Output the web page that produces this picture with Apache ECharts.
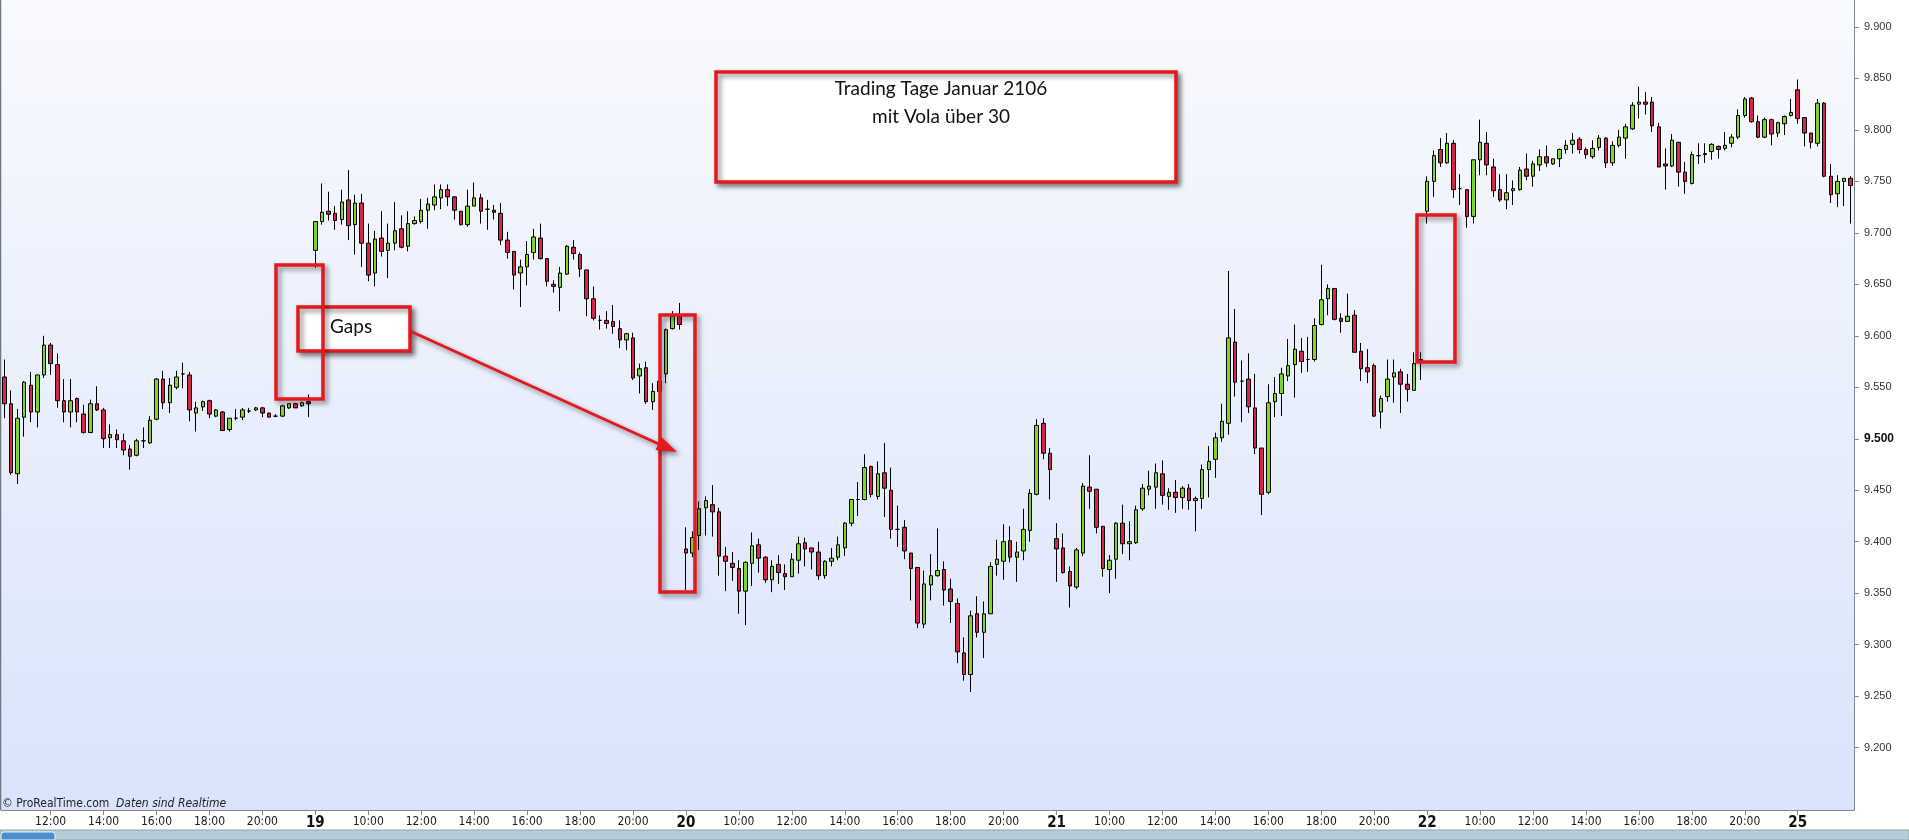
<!DOCTYPE html>
<html>
<head>
<meta charset="utf-8">
<script src="https://cdn.jsdelivr.net/npm/echarts@6/dist/echarts.min.js"></script>
<style>
html,body{margin:0;padding:0;background:#ffffff;}
#chart{width:1909px;height:840px;}
</style>
</head>
<body>
<div id="chart"></div>
<script>
// ---- trading days / sessions (15-minute candles) ----
const dayNames = ['18', '19', '20', '21', '22', '25'];
const dayCandleCount = [47, 56, 56, 56, 56, 9];
const dayFirstTime = ['10:15', '08:00', '08:00', '08:00', '08:00', '08:00'];
const barMinutes = 15;
const xLabelTimes = ['10:00', '12:00', '14:00', '16:00', '18:00', '20:00'];

// ---- price ticks on the right axis (DAX points) ----
const yTickValues = [9200, 9250, 9300, 9350, 9400, 9450, 9500, 9550, 9600, 9650, 9700, 9750, 9800, 9850, 9900];
const yBoldTick = 9500;

// ---- OHLC values ----
const openP = [
9560,9534,9466,9521,9552,9526,9562,9591,9572,9537,
9526,9539,9524,9506,9534,9528,9501,9504,9498,9490,
9484,9498,9496,9519,9558,9535,9550,9563,9562,9525,
9531,9537,9522,9526,9509,9520,9521,9527,9528,9530,
9525,9522,9522,9530,9534,9532,9536,9683,9711,9721,
9719,9713,9732,9708,9729,9690,9661,9695,9683,9690,
9704,9687,9709,9711,9722,9727,9734,9742,9735,9721,
9708,9726,9734,9723,9722,9719,9693,9682,9661,9667,
9681,9695,9675,9650,9647,9660,9686,9679,9664,9636,
9615,9615,9614,9607,9596,9598,9561,9569,9536,9546,
9563,9607,9619,9393,9389,9406,9433,9436,9429,9386,
9379,9374,9352,9379,9397,9385,9363,9378,9369,9366,
9382,9399,9394,9390,9367,9381,9385,9394,9418,9441,
9441,9473,9444,9467,9450,9412,9414,9389,9375,9320,
9358,9367,9373,9354,9340,9292,9271,9330,9312,9330,
9378,9381,9401,9385,9391,9411,9446,9515,9486,9403,
9394,9371,9356,9389,9453,9451,9415,9373,9383,9418,
9398,9399,9432,9451,9453,9466,9444,9448,9443,9452,
9440,9442,9470,9480,9501,9515,9594,9556,9558,9530,
9491,9448,9536,9544,9561,9572,9585,9577,9577,9611,
9636,9646,9617,9614,9620,9585,9569,9571,9526,9541,
9560,9565,9553,9547,9577,9721,9750,9781,9768,9787,
9743,9742,9716,9771,9787,9764,9742,9732,9741,9742,
9762,9755,9766,9774,9767,9772,9781,9786,9791,9781,
9774,9783,9792,9768,9785,9792,9801,9825,9827,9827,
9803,9767,9765,9788,9759,9748,9775,9776,9779,9784,
9782,9787,9793,9814,9831,9808,9793,9810,9797,9806,
9814,9839,9812,9797,9787,9826,9755,9738,9750,9753
];
const closeP = [
9534,9467,9520,9555,9526,9562,9591,9573,9537,9526,
9537,9526,9506,9534,9528,9500,9504,9499,9489,9483,
9498,9498,9518,9558,9535,9552,9560,9563,9528,9530,
9536,9524,9528,9508,9520,9520,9528,9527,9530,9525,
9521,9522,9532,9534,9530,9535,9534,9711,9720,9718,
9712,9730,9707,9729,9690,9659,9694,9682,9690,9702,
9686,9709,9712,9722,9728,9735,9742,9735,9722,9708,
9726,9734,9721,9723,9720,9693,9681,9659,9667,9679,
9696,9675,9653,9648,9661,9687,9680,9665,9636,9617,
9615,9612,9609,9596,9602,9559,9568,9536,9546,9556,
9606,9619,9611,9389,9404,9432,9440,9429,9386,9381,
9375,9352,9380,9396,9384,9363,9376,9370,9366,9383,
9398,9393,9390,9367,9381,9384,9397,9418,9441,9441,
9472,9446,9466,9452,9412,9412,9391,9374,9321,9359,
9367,9372,9353,9342,9293,9271,9328,9312,9330,9376,
9383,9400,9385,9390,9412,9447,9513,9486,9470,9393,
9370,9357,9392,9454,9449,9414,9374,9382,9418,9398,
9400,9431,9452,9454,9467,9445,9448,9443,9452,9440,
9442,9470,9478,9501,9517,9598,9555,9556,9531,9491,
9446,9535,9544,9563,9571,9587,9575,9577,9610,9635,
9646,9616,9614,9619,9584,9568,9565,9522,9539,9558,
9564,9553,9548,9573,9575,9750,9775,9768,9787,9742,
9743,9716,9771,9788,9766,9741,9732,9739,9743,9761,
9755,9767,9774,9768,9772,9781,9785,9790,9781,9776,
9782,9792,9768,9785,9793,9803,9824,9827,9825,9804,
9764,9765,9790,9759,9750,9776,9775,9777,9786,9781,
9785,9793,9814,9830,9808,9793,9810,9796,9807,9813,
9817,9811,9797,9788,9826,9755,9737,9750,9753,9746
];
const lowP = [
9520,9465,9456,9502,9516,9511,9559,9562,9530,9516,
9511,9516,9505,9506,9527,9491,9491,9491,9484,9470,
9483,9491,9495,9518,9529,9525,9548,9549,9517,9507,
9527,9520,9521,9508,9507,9518,9518,9525,9527,9521,
9521,9521,9521,9529,9530,9531,9521,9666,9708,9712,
9703,9708,9693,9679,9667,9653,9648,9677,9656,9683,
9685,9682,9708,9709,9704,9722,9723,9726,9713,9707,
9706,9726,9709,9703,9713,9688,9675,9645,9628,9649,
9674,9674,9648,9642,9624,9659,9674,9657,9619,9615,
9606,9607,9602,9588,9586,9557,9544,9534,9528,9542,
9554,9606,9606,9353,9385,9392,9406,9405,9367,9352,
9362,9330,9319,9357,9370,9360,9351,9359,9353,9366,
9369,9376,9373,9363,9364,9376,9382,9386,9415,9425,
9440,9443,9441,9424,9403,9395,9383,9343,9316,9316,
9343,9366,9338,9321,9282,9265,9254,9307,9287,9330,
9367,9363,9380,9361,9382,9400,9445,9480,9441,9361,
9369,9336,9354,9386,9432,9408,9366,9350,9364,9388,
9382,9398,9430,9445,9432,9436,9431,9428,9432,9431,
9410,9432,9443,9462,9497,9504,9541,9516,9525,9485,
9426,9446,9521,9522,9556,9540,9564,9565,9575,9610,
9620,9615,9603,9614,9584,9556,9554,9521,9510,9536,
9535,9525,9536,9547,9557,9709,9735,9764,9767,9734,
9727,9705,9709,9756,9756,9735,9730,9723,9727,9741,
9751,9745,9760,9764,9766,9764,9777,9777,9777,9772,
9772,9780,9763,9765,9783,9772,9800,9811,9815,9798,
9764,9742,9764,9745,9738,9747,9767,9768,9771,9772,
9780,9783,9791,9812,9807,9792,9792,9785,9793,9795,
9813,9806,9784,9782,9784,9754,9729,9725,9726,9709
];
const highP = [
9577,9547,9529,9556,9565,9562,9600,9593,9583,9558,
9558,9540,9533,9538,9551,9530,9514,9509,9505,9494,
9500,9511,9522,9559,9566,9559,9566,9574,9565,9536,
9537,9538,9529,9527,9520,9529,9530,9530,9531,9531,
9525,9524,9533,9534,9535,9536,9543,9711,9748,9740,
9726,9742,9761,9737,9738,9709,9702,9721,9709,9730,
9717,9721,9716,9733,9734,9747,9747,9747,9735,9721,
9742,9749,9738,9732,9727,9729,9701,9682,9674,9692,
9704,9709,9675,9654,9667,9688,9693,9681,9664,9648,
9620,9624,9630,9615,9603,9603,9573,9575,9554,9562,
9607,9624,9632,9414,9410,9439,9444,9455,9433,9395,
9390,9382,9381,9409,9403,9386,9382,9387,9378,9389,
9405,9404,9394,9400,9382,9394,9405,9419,9441,9458,
9485,9474,9478,9496,9472,9435,9421,9389,9375,9372,
9388,9413,9381,9364,9345,9307,9333,9347,9342,9380,
9402,9417,9415,9400,9432,9451,9519,9520,9491,9418,
9408,9376,9394,9457,9484,9451,9415,9387,9419,9436,
9420,9435,9456,9469,9476,9479,9452,9460,9454,9456,
9444,9475,9493,9506,9534,9663,9626,9576,9583,9563,
9491,9553,9560,9569,9597,9611,9598,9599,9617,9669,
9650,9646,9622,9641,9625,9593,9587,9573,9542,9577,
9577,9568,9563,9584,9584,9755,9780,9792,9797,9790,
9757,9742,9771,9810,9798,9772,9757,9757,9751,9764,
9777,9770,9781,9785,9772,9782,9790,9797,9793,9783,
9790,9795,9793,9789,9800,9806,9827,9842,9837,9832,
9807,9782,9796,9788,9769,9779,9787,9787,9787,9785,
9798,9796,9820,9832,9832,9814,9812,9811,9808,9814,
9830,9849,9812,9797,9830,9827,9767,9756,9753,9755
];

// ---- build categories (time of each candle) ----
const categories = [];
const labelText = {};
dayNames.forEach((d, di) => {
  const [h0, m0] = dayFirstTime[di].split(':').map(Number);
  for (let k = 0; k < dayCandleCount[di]; k++) {
    const t = h0 * 60 + m0 + k * barMinutes;
    const hh = String(Math.floor(t / 60)).padStart(2, '0');
    const mm = String(t % 60).padStart(2, '0');
    const idx = categories.length;
    categories.push(d + '.01. ' + hh + ':' + mm);
    if (k === 0 && di > 0) labelText[idx] = '{d|' + d + '}';
    else if (xLabelTimes.indexOf(hh + ':' + mm) >= 0 && di < dayNames.length - 1) labelText[idx] = hh + ':' + mm;
  }
});
const candleData = openP.map((o, i) => [o, closeP[i], lowP[i], highP[i]]);

const chart = echarts.init(document.getElementById('chart'), null, {renderer: 'canvas'});
const RED = '#e3191e';
const SH = {shadowBlur: 5, shadowOffsetX: 3, shadowOffsetY: 3, shadowColor: 'rgba(0,0,0,0.45)'};
const numFont = "'Liberation Sans', Arial, sans-serif";
const narrowFont = "'Liberation Sans Narrow', 'DejaVu Sans Condensed', 'Liberation Sans', sans-serif";
const noteFont = "Lato, 'Open Sans', sans-serif";

chart.setOption({
  animation: false,
  backgroundColor: '#ffffff',
  grid: {
    left: 1, right: 55, top: 0, bottom: 30,
    show: true, borderWidth: 0,
    backgroundColor: {type: 'linear', x: 0, y: 0, x2: 0, y2: 1,
      colorStops: [{offset: 0, color: '#f9fafe'}, {offset: 1, color: '#d9e3fb'}]}
  },
  xAxis: {
    type: 'category',
    data: categories,
    boundaryGap: true,
    axisLine: {show: true, lineStyle: {color: '#7d8991', width: 1}},
    axisTick: {show: true, alignWithLabel: true, length: 5, lineStyle: {color: '#7d8991'},
      interval: (i) => labelText[i] !== undefined},
    axisLabel: {
      interval: (i) => labelText[i] !== undefined,
      formatter: (v, i) => labelText[i] || '',
      margin: 6,
      fontFamily: narrowFont, fontSize: 12, color: '#1a1a1a',
      rich: {d: {fontFamily: narrowFont, fontSize: 15, fontWeight: 'bold', color: '#111'}}
    },
    splitLine: {show: false}
  },
  yAxis: {
    type: 'value',
    position: 'right',
    min: 9139.4, max: 9926.2,
    axisLine: {show: true, lineStyle: {color: '#7d8991', width: 1}},
    axisTick: {show: true, length: 5, customValues: yTickValues, lineStyle: {color: '#7d8991'}},
    axisLabel: {
      customValues: yTickValues,
      margin: 10,
      fontFamily: numFont, fontSize: 11, color: '#333',
      formatter: (v) => {
        const s = (v / 1000).toFixed(3);
        return Math.round(v) === yBoldTick ? '{b|' + s + '}' : s;
      },
      rich: {b: {fontFamily: numFont, fontSize: 12, fontWeight: 'bold', color: '#111'}}
    },
    splitLine: {show: false}
  },
  series: [{
    type: 'candlestick',
    data: candleData,
    barWidth: 4,
    itemStyle: {
      color: '#7fd62a', color0: '#d6244b',
      borderColor: '#000', borderColor0: '#000', borderColorDoji: '#000', borderWidth: 1
    }
  }],
  graphic: [
    // left border of the price pane
    {type: 'line', z: 50, silent: true, shape: {x1: 0.5, y1: 0, x2: 0.5, y2: 810}, style: {stroke: '#6b7881', lineWidth: 1.5}},
    // copyright line
    {type: 'text', z: 50, silent: true, style: {
      text: '{a|\u00a9 ProRealTime.com}  {i|Daten sind Realtime}', x: 2, y: 804,
      verticalAlign: 'middle', textVerticalAlign: 'middle',
      rich: {
        a: {fill: '#222', fontFamily: narrowFont, fontSize: 12},
        i: {fill: '#222', fontFamily: narrowFont, fontSize: 12, fontStyle: 'italic'}
      }}},
    // bottom tool strip
    {type: 'rect', z: 50, silent: true, shape: {x: 0, y: 830, width: 1909, height: 10}, style: {fill: '#b5cdd8', stroke: '#8ea3ad', lineWidth: 1}},
    {type: 'rect', z: 51, silent: true, shape: {x: 1, y: 832, width: 54, height: 8, r: [3, 3, 0, 0]}, style: {fill: '#4b8fd1', stroke: '#e8f0f8', lineWidth: 1}},
    // title note
    {type: 'rect', z: 100, silent: true, shape: {x: 716, y: 72, width: 460, height: 110}, style: Object.assign({fill: '#ffffff', stroke: RED, lineWidth: 3.5}, SH)},
    {type: 'text', z: 101, silent: true, style: {text: 'Trading Tage Januar 2106', x: 941, y: 89, fill: '#111', font: '19px ' + noteFont, align: 'center', verticalAlign: 'middle', textAlign: 'center', textVerticalAlign: 'middle'}},
    {type: 'text', z: 101, silent: true, style: {text: 'mit Vola über 30', x: 941, y: 117, fill: '#111', font: '19px ' + noteFont, align: 'center', verticalAlign: 'middle', textAlign: 'center', textVerticalAlign: 'middle'}},
    // Gaps note
    {type: 'rect', z: 100, silent: true, shape: {x: 298, y: 307, width: 112, height: 44}, style: Object.assign({fill: '#ffffff', stroke: RED, lineWidth: 3.5}, SH)},
    {type: 'text', z: 101, silent: true, style: {text: 'Gaps', x: 330, y: 327, fill: '#111', font: '19px ' + noteFont, verticalAlign: 'middle', textVerticalAlign: 'middle'}},
    // gap boxes
    {type: 'rect', z: 102, silent: true, shape: {x: 276, y: 265, width: 47, height: 134}, style: Object.assign({fill: 'none', stroke: RED, lineWidth: 3.5}, SH)},
    {type: 'rect', z: 102, silent: true, shape: {x: 660, y: 315, width: 35, height: 277}, style: Object.assign({fill: 'none', stroke: RED, lineWidth: 3.5}, SH)},
    {type: 'rect', z: 102, silent: true, shape: {x: 1417, y: 215, width: 38, height: 147}, style: Object.assign({fill: 'none', stroke: RED, lineWidth: 3.5}, SH)},
    // arrow
    {type: 'line', z: 103, silent: true, shape: {x1: 410, y1: 331, x2: 661, y2: 445}, style: Object.assign({stroke: RED, lineWidth: 3}, SH)},
    {type: 'polygon', z: 103, silent: true, shape: {points: [[677, 452], [655.5, 450], [661.5, 437]]}, style: Object.assign({fill: RED}, SH)}
  ]
});
</script>
</body>
</html>
